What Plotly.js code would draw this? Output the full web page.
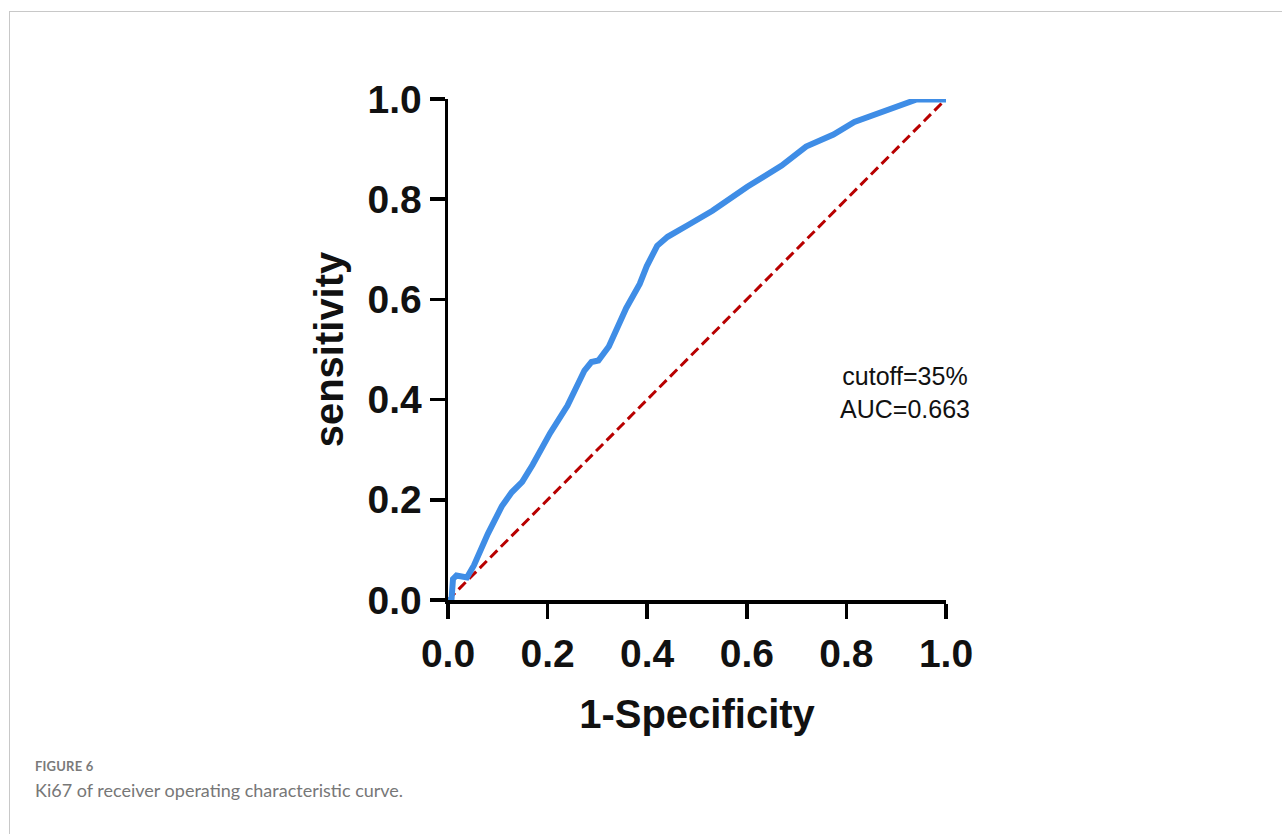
<!DOCTYPE html>
<html>
<head>
<meta charset="utf-8">
<script src="https://cdn.plot.ly/plotly-3.0.1.min.js"></script>
<style>
html,body{margin:0;padding:0;background:#fff;width:1282px;height:834px;overflow:hidden;}
#frame{position:absolute;left:9px;top:11px;width:1300px;height:900px;border-left:1px solid #c8c8c8;border-top:1px solid #c8c8c8;}
#plot{position:absolute;left:0;top:0;width:1282px;height:834px;}
#figlabel{position:absolute;left:35px;top:758px;font-family:Lato,'Open Sans',sans-serif;font-size:13px;font-weight:700;color:#7a7a7a;letter-spacing:0.2px;}
#figcap{position:absolute;left:35px;top:779px;font-family:Lato,'Open Sans',sans-serif;font-size:18px;color:#777;}
</style>
</head>
<body>
<div id="frame"></div>
<div id="plot"></div>
<div id="figlabel">FIGURE 6</div>
<div id="figcap">Ki67 of receiver operating characteristic curve.</div>
<script>
// ROC curve
const fpr = [0.000, 0.007, 0.010, 0.017, 0.038, 0.052, 0.080, 0.108, 0.128, 0.149, 0.170, 0.205, 0.240, 0.274, 0.288, 0.302, 0.323, 0.358, 0.385, 0.399, 0.420, 0.441, 0.483, 0.531, 0.601, 0.670, 0.719, 0.774, 0.816, 0.872, 0.913, 0.941, 1.000];
const tpr = [0.000, 0.000, 0.042, 0.049, 0.045, 0.069, 0.132, 0.187, 0.215, 0.236, 0.270, 0.333, 0.388, 0.458, 0.475, 0.478, 0.506, 0.583, 0.631, 0.666, 0.707, 0.725, 0.749, 0.777, 0.825, 0.867, 0.905, 0.929, 0.954, 0.974, 0.990, 0.999, 0.999];
const refX = [0, 1];
const refY = [0, 1];
const tickVals = [0, 0.2, 0.4, 0.6, 0.8, 1.0];
const tickText = ['0.0', '0.2', '0.4', '0.6', '0.8', '1.0'];
const xTitle = '1-Specificity';
const yTitle = 'sensitivity';
const noteText = 'cutoff=35%<br>AUC=0.663';

const tickFont = {family: 'Liberation Sans, Arial, sans-serif', size: 39, color: '#111', weight: 'bold'};
const titleFont = {family: 'Liberation Sans, Arial, sans-serif', size: 40, color: '#111', weight: 'bold'};

const traces = [
  {x: refX, y: refY, mode: 'lines', type: 'scatter',
   line: {color: '#b80000', width: 3, dash: '10px,5px'}, hoverinfo: 'skip'},
  {x: fpr, y: tpr, mode: 'lines', type: 'scatter',
   line: {color: '#3f8de6', width: 6}, hoverinfo: 'skip'}
];

const axisCommon = {
  range: [0, 1], tickvals: tickVals, ticktext: tickText,
  showgrid: false, zeroline: false, showline: true,
  linecolor: '#000', linewidth: 3.5, ticks: 'outside', ticklen: 15, tickwidth: 3.5, tickcolor: '#000',
  tickfont: tickFont, fixedrange: true
};

const layout = {
  width: 1282, height: 834,
  margin: {l: 448, r: 336, t: 99, b: 234, pad: 0},
  paper_bgcolor: 'rgba(0,0,0,0)', plot_bgcolor: 'rgba(0,0,0,0)',
  showlegend: false,
  xaxis: Object.assign({}, axisCommon, {ticklabelstandoff: 2,
    title: {text: xTitle, font: titleFont, standoff: 26}}),
  yaxis: Object.assign({}, axisCommon, {ticklabelstandoff: 0,
    title: {text: yTitle, font: titleFont, standoff: 12}}),
  annotations: [{
    xref: 'x', yref: 'y', x: 0.918, y: 0.415, text: noteText, showarrow: false,
    align: 'center', font: {family: 'Liberation Sans, Arial, sans-serif', size: 25, color: '#111'}
  }]
};

Plotly.newPlot('plot', traces, layout, {displayModeBar: false, staticPlot: true});
</script>
</body>
</html>
